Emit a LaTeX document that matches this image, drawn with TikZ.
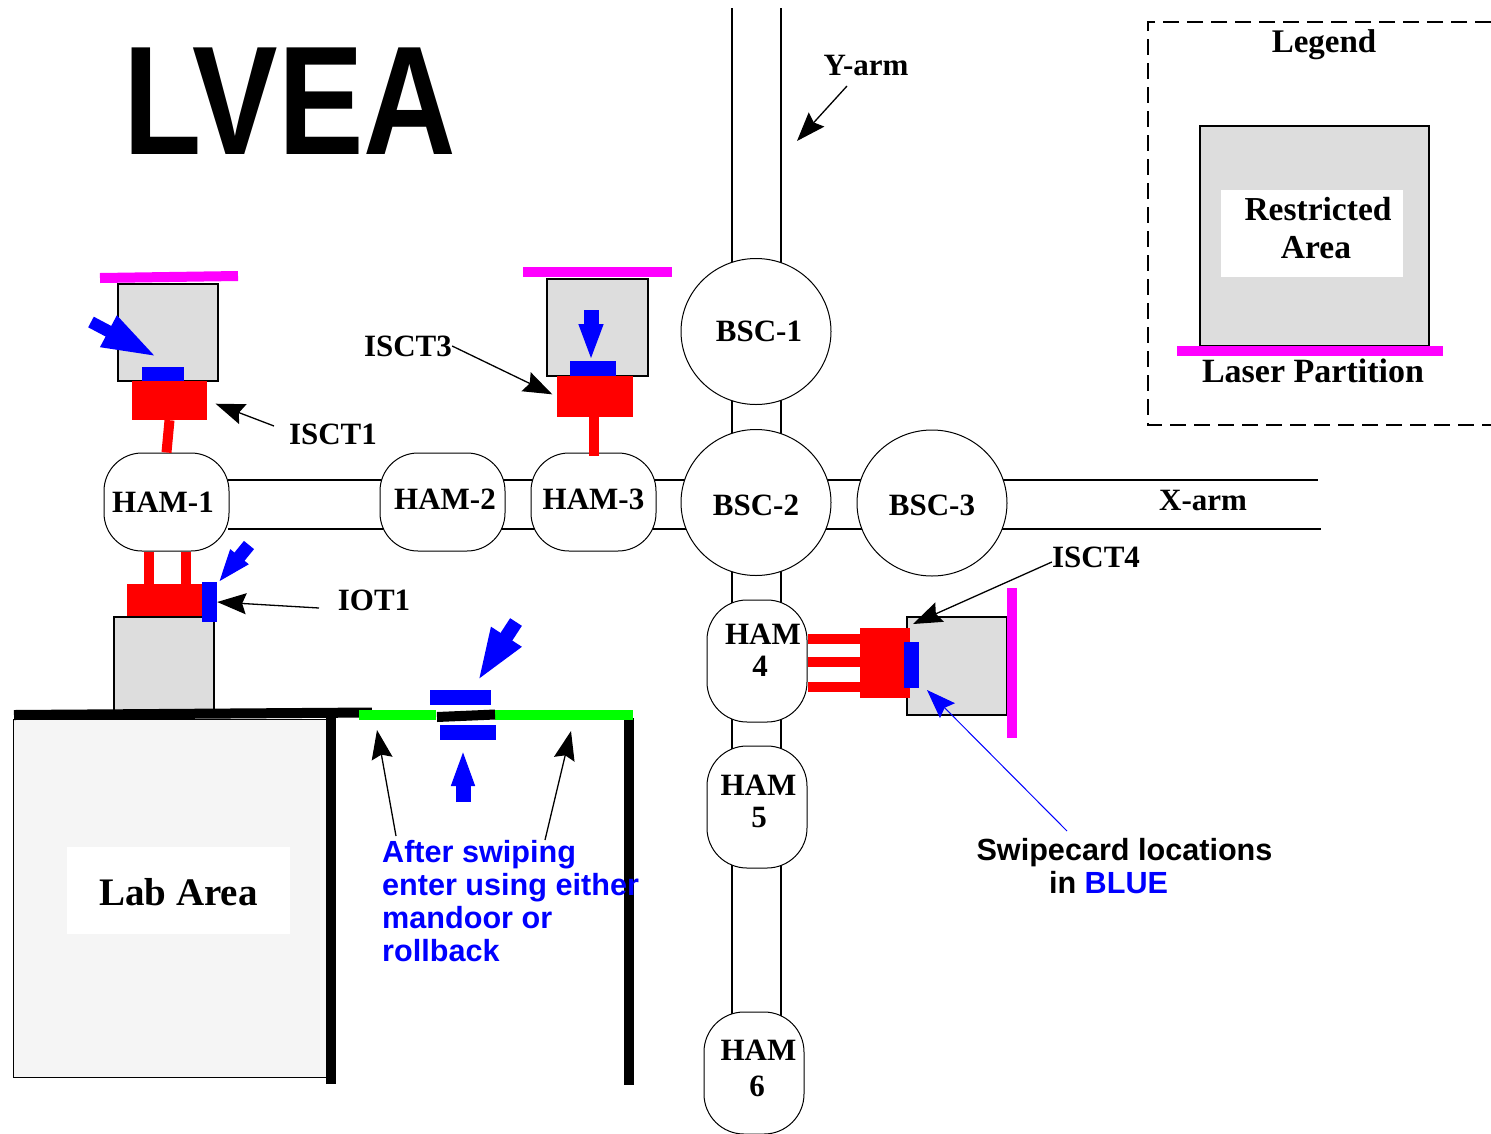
\documentclass[tikz,border=0pt]{standalone}
\usepackage{fontspec}
\setmainfont{Liberation Serif}
\setsansfont{Liberation Sans}
\usetikzlibrary{arrows.meta,shapes.geometric}
\definecolor{areagrey}{HTML}{DDDDDD}
\definecolor{labgrey}{HTML}{F5F5F5}
\definecolor{partpink}{HTML}{FF00FF}
\definecolor{doorgreen}{HTML}{00FF00}
\definecolor{tablered}{HTML}{FF0000}
\definecolor{cardblue}{HTML}{0000FF}
\tikzset{
  chamber/.style={draw, fill=white, inner sep=0pt, line width=1pt, font=\fontsize{31}{32}\selectfont\bfseries, align=center},
  hamround/.style={chamber, rounded corners=38pt, minimum width=125pt, minimum height=98pt},
  hamtall/.style={chamber, rounded corners=40pt, minimum width=100pt, minimum height=122pt},
  bsc/.style={chamber, ellipse, minimum width=150pt, minimum height=146pt},
  greybox/.style={draw, fill=areagrey, line width=2pt, inner sep=0pt},
  redtable/.style={fill=tablered, inner sep=0pt},
  swipe/.style={fill=cardblue, inner sep=0pt},
  partition/.style={draw=partpink, line width=10pt},
  redpipe/.style={draw=tablered, line width=10pt},
  wall/.style={draw=black, line width=10pt},
  tag/.style={inner sep=0pt, font=\fontsize{31}{32}\selectfont\bfseries},
  note/.style={inner sep=0pt, font=\fontsize{30.6}{33}\selectfont\sffamily\bfseries},
  callout/.style={draw=black, line width=1.3pt, -{Stealth[length=29pt,width=21pt,inset=4pt]}},
  swipearrow/.style={draw=cardblue, -{Triangle[length=#1,width=32pt]}},
}
\begin{document}
\begin{tikzpicture}[x=1pt,y=-1pt]
\useasboundingbox (0,0) rectangle (1491,1133);
\node[inner sep=0pt, xscale=.827, transform shape, font=\fontsize{155}{155}\selectfont\sffamily\bfseries] (title) at (290,101) {LVEA};
\draw[line width=1.5pt] (732,8) -- (732,1030);
\draw[line width=1.5pt] (781,8) -- (781,1030);
\draw[line width=1.5pt] (228,480) -- (1318,480);
\draw[line width=1.5pt] (228,529) -- (1321,529);
\node[hamround] (ham1) at (166.5,502) {HAM-1\hspace*{7pt}};
\node[hamround, text depth=6pt] (ham2) at (442.5,502) {\hspace*{5pt}HAM-2};
\node[hamround, text depth=6pt] (ham3) at (593.5,502) {HAM-3};
\node[bsc] (bsc1) at (756,331.5) {\hspace*{6pt}BSC-1};
\node[bsc, text height=26pt] (bsc2) at (756,502.5) {BSC-2};
\node[bsc, text height=26pt] (bsc3) at (932,503) {BSC-3};
\node[hamtall, text depth=22pt] (ham4) at (757,661) {\hspace*{12pt}HAM\\\hspace*{6pt}4};
\node[hamtall, text depth=12pt] (ham5) at (757,807) {\hspace*{3pt}HAM\\\hspace*{4pt}5};
\node[hamtall, text depth=10pt] (ham6) at (754,1073) {\hspace*{9pt}HAM\\[4pt]\hspace*{6pt}6};
\node[greybox, minimum width=100pt, minimum height=97pt] (isct1box) at (168,332.5) {};
\node[greybox, minimum width=101pt, minimum height=97pt] (isct3box) at (597.5,327.5) {};
\node[greybox, minimum width=100pt, minimum height=98pt] (isct4box) at (957,666) {};
\node[greybox, minimum width=100pt, minimum height=95pt] (iot1box) at (164,664.5) {};
\node[redtable, minimum width=75pt, minimum height=39pt] (isct1table) at (169.5,400.5) {};
\node[redtable, minimum width=76pt, minimum height=41pt] (isct3table) at (595,396.5) {};
\node[redtable, minimum width=50pt, minimum height=70pt] (isct4table) at (885,663) {};
\node[redtable, minimum width=78pt, minimum height=32pt] (iot1table) at (166,600) {};
\draw[redpipe] (isct1table.south) -- (ham1.north);
\draw[redpipe] ([xshift=-1pt]isct3table.south) -- ([xshift=-1pt,yshift=-3pt]isct3table.south |- ham3.north);
\draw[redpipe] ([xshift=-17.5pt]ham1.south) -- ([xshift=-17.5pt]ham1.south |- iot1table.north);
\draw[redpipe] ([xshift=19.5pt]ham1.south) -- ([xshift=19.5pt]ham1.south |- iot1table.north);
\draw[redpipe] ([yshift=22pt]ham4.east) -- ([yshift=22pt]ham4.east -| isct4table.west);
\draw[redpipe] ([yshift=-1pt]ham4.east) -- ([yshift=-1pt]ham4.east -| isct4table.west);
\draw[redpipe] ([yshift=-26pt]ham4.east) -- ([yshift=-26pt]ham4.east -| isct4table.west);
\node[swipe, minimum width=42pt, minimum height=14pt] (isct1swipe) at (163,374) {};
\node[swipe, minimum width=46pt, minimum height=15pt] (isct3swipe) at (593,368.5) {};
\node[swipe, minimum width=15pt, minimum height=46pt] (isct4swipe) at (911.5,665) {};
\node[swipe, minimum width=15pt, minimum height=40pt] (iot1swipe) at (209.5,602) {};
\node[swipe, minimum width=61pt, minimum height=15pt] (doorswipea) at (460.5,697.5) {};
\node[swipe, minimum width=56pt, minimum height=15pt] (doorswipeb) at (468,732.5) {};
\draw[partition] (100,278) -- (238,276);
\draw[partition] (523,272) -- (672,272);
\draw[partition] (1012,588) -- (1012,738);
\node[draw, fill=labgrey, line width=1pt, minimum width=314pt, minimum height=358pt] (labarea) at (170,898) {};
\node[fill=white, inner sep=0pt, minimum width=223pt, minimum height=87pt, text height=30pt, font=\fontsize{39}{40}\selectfont\bfseries] (lablabel) at (178.5,890.5) {Lab Area};
\draw[wall] (14,715) -- (372,712.5);
\draw[wall] (331,713) -- (331,1084);
\draw[wall] (629,718) -- (629,1085);
\draw[draw=doorgreen, line width=10pt] (359,715) -- (436,715);
\draw[draw=doorgreen, line width=10pt] (495,715) -- (633,715);
\draw[wall] (437,717) -- (495,714.5);
\coordinate (isct1from) at (91,322);
\coordinate (isct1to) at (157,357);
\coordinate (isct3from) at (591,310);
\coordinate (isct3to) at (591,361);
\coordinate (iot1from) at (249,545);
\coordinate (iot1to) at (218,583);
\coordinate (dooradown) at (516,622);
\coordinate (dooraend) at (477,682);
\coordinate (doorbup) at (463,802);
\coordinate (doorbend) at (463,749);
\draw[swipearrow={55pt}, line width=12pt] (isct1from) -- (isct1to);
\draw[draw=cardblue, line width=15pt, -{Triangle[length=37pt,width=22pt]}] (isct3from) -- (isct3to);
\draw[draw=cardblue, line width=13pt, -{Triangle[length=34pt,width=21pt]}] (iot1from) -- (iot1to);
\draw[swipearrow={54pt}, line width=14pt] (dooradown) -- (dooraend);
\draw[draw=cardblue, line width=15pt, -{Triangle[length=37pt,width=21pt]}] (doorbup) -- (doorbend);
\node[tag] (yarm) at (866,65.5) {Y-arm};
\node[tag] (xarm) at (1203,500.5) {X-arm};
\node[tag] (isct1lab) at (333,434) {ISCT1};
\node[tag] (isct3lab) at (408,346) {ISCT3};
\node[tag] (isct4lab) at (1096,557) {ISCT4};
\node[tag] (iot1lab) at (374,600) {IOT1};
\coordinate (yarmfrom) at (847,86);
\coordinate (yarmto) at (797,141);
\coordinate (isct1from2) at (274,426);
\coordinate (isct4to) at (913,624);
\coordinate (iot1from2) at (319,608);
\coordinate (greenfroma) at (396,836);
\coordinate (greentoa) at (377,730);
\coordinate (greenfromb) at (545,840);
\coordinate (greentob) at (571,731);
\coordinate (cardfrom) at (1067,831);
\coordinate (cardto) at (927,690);
\draw[callout] (yarmfrom) -- (yarmto);
\draw[callout, shorten >=9pt] (isct1from2) -- (isct1table.east);
\draw[callout, shorten >=5pt] (isct3lab.east) -- (isct3table.west);
\draw[callout] ([yshift=-5pt]isct4lab.west) -- (isct4to);
\draw[callout] (iot1from2) -- (iot1swipe.east);
\draw[callout] (greenfroma) -- (greentoa);
\draw[callout] (greenfromb) -- (greentob);
\draw[draw=cardblue, line width=1pt, -{Stealth[length=29pt,width=21pt,inset=4pt]}] (cardfrom) -- (cardto);
\node[note, anchor=north west, align=left, text=cardblue] (aftertext) at (382,840.5) {After swiping\\enter using either\\mandoor or\\rollback};
\node[note, align=center] (cardtext) at (1124.5,866) {Swipecard locations\\in {\color{cardblue}BLUE}\hspace*{32pt}};
\draw[dashed, dash pattern=on 16pt off 8pt, line width=1.5pt] (1491,22) -- (1148,22) -- (1148,425) -- (1491,425);
\node[tag, font=\fontsize{33}{35}\selectfont\bfseries] (legend) at (1324,45) {Legend};
\node[greybox, minimum width=229pt, minimum height=220pt] (legendbox) at (1314.5,236) {};
\node[fill=white, inner sep=0pt, minimum width=182pt, minimum height=87pt, align=center, text depth=12pt, font=\fontsize{33.5}{38}\selectfont\bfseries] (restricted) at (1312,233.5) {\hspace*{12pt}Restricted\\\hspace*{8pt}Area};
\draw[partition] (1177,351) -- (1443,351);
\node[tag, font=\fontsize{34}{35}\selectfont\bfseries] (laser) at (1313,371) {Laser Partition};
\end{tikzpicture}
\end{document}
